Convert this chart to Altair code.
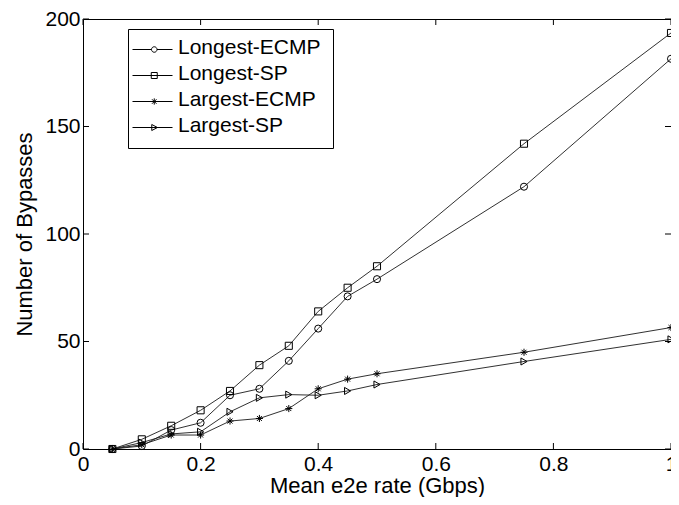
import altair as alt
import pandas as pd

# ---- data ----
rates = [0.05, 0.1, 0.15, 0.2, 0.25, 0.3, 0.35, 0.4, 0.45, 0.5, 0.75, 1.0]
series_names = ["Longest-ECMP", "Longest-SP", "Largest-ECMP", "Largest-SP"]
longest_ecmp = [0, 1.4, 8.8, 12.2, 25, 28, 41, 56, 71, 79, 122, 181.5]
longest_sp = [0, 4.5, 10.8, 18, 27, 39, 48, 64, 75, 85, 142, 193.5]
largest_ecmp = [0, 2, 6.5, 6.5, 13, 14.2, 18.8, 28, 32.5, 35, 45, 56.5]
largest_sp = [0, 3, 7, 8, 17.3, 23.8, 25.3, 25, 27, 30, 40.7, 51]
x_ticks = [0, 0.2, 0.4, 0.6, 0.8, 1.0]
y_ticks = [0, 50, 100, 150, 200]

values = [longest_ecmp, longest_sp, largest_ecmp, largest_sp]
rows = []
for name, vals in zip(series_names, values):
    for x, y in zip(rates, vals):
        rows.append({"x": x, "y": y, "series": name})
df = pd.DataFrame(rows)

FONT = "Liberation Sans"
W, H = 588, 430
TICK = 6

STAR = "M-1,0L1,0M0,-1L0,1M-0.7,-0.7L0.7,0.7M-0.7,0.7L0.7,-0.7"
marker_shapes = ["circle", "square", STAR, "triangle-right"]

# legend symbols: line + marker (units scaled by 12.5 px)
yo = -0.36
x0, x1 = -1.64, 1.56
mc = 0.1
def L(a, b):
    return f"M{a},{yo}L{b},{yo}"
r = 0.22
leg_circle = (L(x0, mc - r) + L(mc + r, x1) +
              f"M{mc - r},{yo}A{r},{r} 0 1,1 {mc + r},{yo}A{r},{r} 0 1,1 {mc - r},{yo}Z")
s = 0.24
leg_square = (L(x0, x1) +
              f"M{mc - s},{yo - s}L{mc + s},{yo - s}L{mc + s},{yo + s}L{mc - s},{yo + s}Z")
leg_star = (L(x0, x1) +
            f"M{mc - 0.25},{yo}L{mc + 0.25},{yo}M{mc},{yo - 0.25}L{mc},{yo + 0.25}"
            f"M{mc - 0.18},{yo - 0.18}L{mc + 0.18},{yo + 0.18}M{mc - 0.18},{yo + 0.18}L{mc + 0.18},{yo - 0.18}")
leg_tri = (L(x0, x1) +
           f"M{mc - 0.2},{yo - 0.24}L{mc + 0.26},{yo}L{mc - 0.2},{yo + 0.24}Z")
legend_shapes = [leg_circle, leg_square, leg_star, leg_tri]

x_scale = alt.Scale(domain=[0, 1], nice=False, zero=False)
y_scale = alt.Scale(domain=[0, 200], nice=False)

x_enc = alt.X("x:Q", scale=x_scale, title="Mean e2e rate (Gbps)",
              axis=alt.Axis(values=x_ticks, format="~g", labelFont=FONT, labelFontSize=21,
                            labelColor="black", ticks=False, tickSize=0, domain=False, grid=False,
                            labelPadding=4, labelFlush=False, titleFont=FONT, titleFontSize=22,
                            titleFontWeight="normal", titleColor="black",
                            titleBaseline="alphabetic", titleY=43))
y_enc = alt.Y("y:Q", scale=y_scale, title="Number of Bypasses",
              axis=alt.Axis(values=y_ticks, labelFont=FONT, labelFontSize=21, labelColor="black",
                            ticks=False, tickSize=0, domain=False, grid=False, labelPadding=3,
                            labelFlush=False, titleFont=FONT, titleFontSize=22,
                            titleFontWeight="normal", titleColor="black", titlePadding=8))

base = alt.Chart(df)

lines = base.mark_line(color="#1a1a1a", strokeWidth=0.9).encode(x=x_enc, y=y_enc, detail="series:N")

points = base.mark_point(filled=False, color="black", size=50, strokeWidth=1, opacity=1).encode(
    x=alt.X("x:Q"), y=alt.Y("y:Q"),
    shape=alt.Shape("series:N", scale=alt.Scale(domain=series_names, range=marker_shapes), legend=None),
)

legend_layer = base.transform_filter("false").mark_point(
    filled=False, color="black", size=625, strokeWidth=1, opacity=1
).encode(
    x=alt.X("x:Q"), y=alt.Y("y:Q"),
    shape=alt.Shape("series:N", scale=alt.Scale(domain=series_names, range=legend_shapes),
                    legend=alt.Legend(title=None, orient="none", legendX=45, legendY=10, padding=12,
                                      strokeColor="black", fillColor="white", labelFont=FONT,
                                      labelFontSize=21, labelColor="black", labelBaseline="alphabetic",
                                      labelOffset=12, symbolSize=625, symbolStrokeWidth=1,
                                      symbolStrokeColor="black", symbolFillColor="transparent",
                                      rowPadding=5, labelLimit=400)),
)

xt_df = pd.DataFrame({"x": x_ticks})
yt_df = pd.DataFrame({"y": y_ticks})
tick_x_bottom = alt.Chart(xt_df).mark_rule(color="black", strokeWidth=1).encode(
    x=alt.X("x:Q"), y=alt.value(H), y2=alt.value(H - TICK))
tick_x_top = alt.Chart(xt_df).mark_rule(color="black", strokeWidth=1).encode(
    x=alt.X("x:Q"), y=alt.value(0), y2=alt.value(TICK))
tick_y_left = alt.Chart(yt_df).mark_rule(color="black", strokeWidth=1).encode(
    y=alt.Y("y:Q"), x=alt.value(0), x2=alt.value(TICK))
tick_y_right = alt.Chart(yt_df).mark_rule(color="black", strokeWidth=1).encode(
    y=alt.Y("y:Q"), x=alt.value(W), x2=alt.value(W - TICK))

chart = alt.layer(
    lines, tick_x_bottom, tick_x_top, tick_y_left, tick_y_right, points, legend_layer
).resolve_scale(shape="independent").properties(
    width=W, height=H,
    autosize=alt.AutoSizeParams(type="none"),
    padding={"left": 75, "top": 11, "right": 0, "bottom": 48},
    background="white",
).configure_view(stroke="black", strokeWidth=1)

chart.save("out.html", embed_options={"renderer": "svg", "actions": False})
